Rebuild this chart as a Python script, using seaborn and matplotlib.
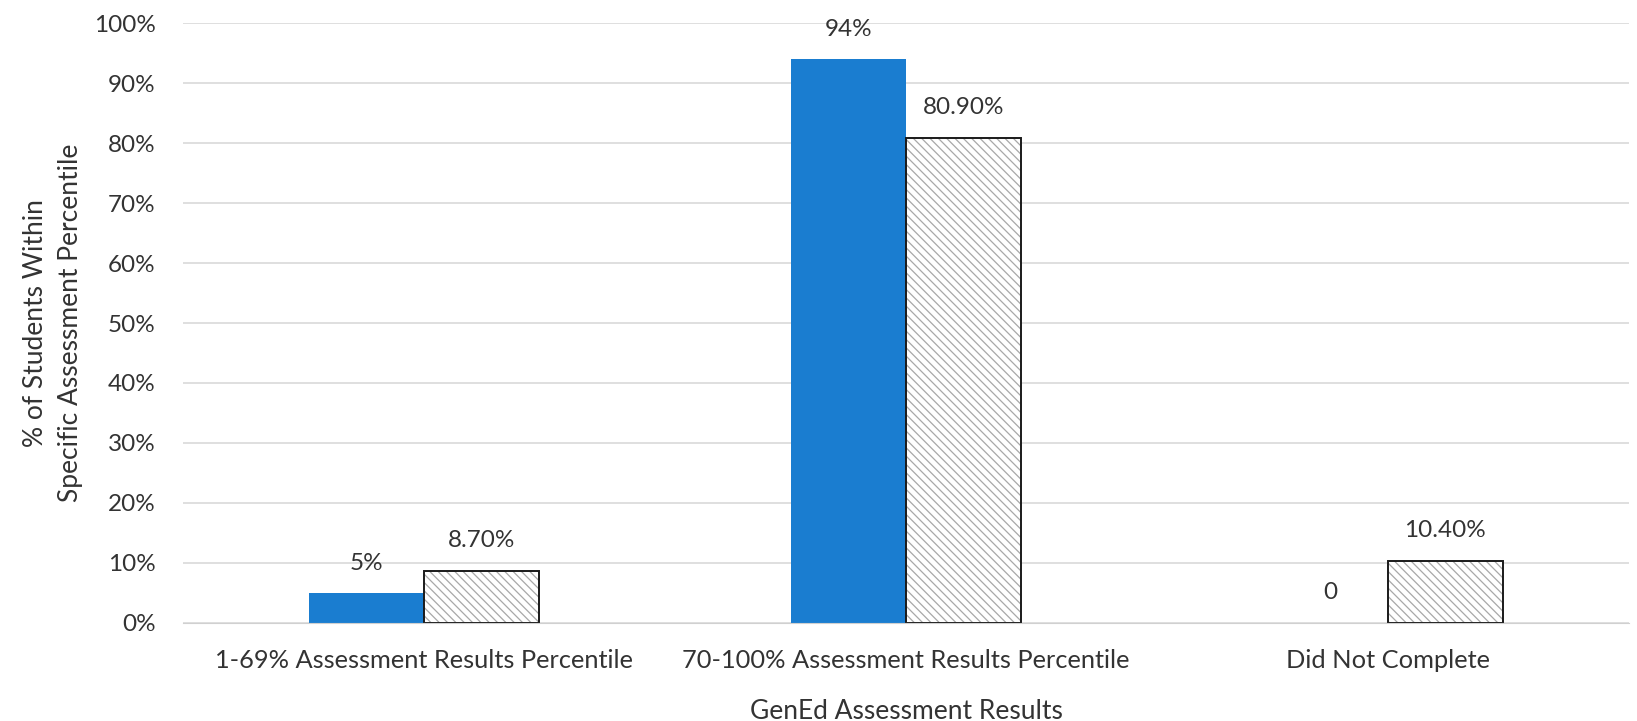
import pandas as pd
import numpy as np
import matplotlib
matplotlib.use('Agg')
import matplotlib.pyplot as plt
import seaborn as sns

categories = ['1-69% Assessment Results Percentile',
              '70-100% Assessment Results Percentile',
              'Did Not Complete']
series = ['Group A', 'Group B']
values_a = [5, 94, 0]
values_b = [8.7, 80.9, 10.4]
labels_a = ['5%', '94%', '0']
labels_b = ['8.70%', '80.90%', '10.40%']

df = pd.DataFrame({
    'Category': categories * 2,
    'Series': [series[0]] * 3 + [series[1]] * 3,
    'Value': values_a + values_b,
})

sns.set_style('white')
plt.rcParams['font.family'] = ['Lato', 'DejaVu Sans']
plt.rcParams['hatch.linewidth'] = 0.9
text_color = '#333333'
blue = '#1a7dd0'

fig, ax = plt.subplots(figsize=(16.37, 7.21), dpi=100)
fig.subplots_adjust(left=0.112, right=0.995, top=0.968, bottom=0.136)

# filled / hatched bars
sns.barplot(data=df, x='Category', y='Value', hue='Series', order=categories,
            hue_order=series, palette=[blue, 'white'], width=0.477,
            saturation=1, legend=False, ax=ax, linewidth=0)
# outline pass
sns.barplot(data=df, x='Category', y='Value', hue='Series', order=categories,
            hue_order=series, palette=[blue, 'white'], width=0.477,
            saturation=1, legend=False, ax=ax, linewidth=0)

for p in ax.containers[1]:
    p.set_hatch('\\\\\\\\')
    p.set_edgecolor('#a8a8a8')
    p.set_linewidth(0)
for p in ax.containers[2]:
    p.set_visible(False)
for p in ax.containers[3]:
    p.set_facecolor('none')
    p.set_edgecolor('#1a1a1a')
    p.set_linewidth(1.4)
for p in ax.containers[0]:
    p.set_edgecolor(blue)

ax.bar_label(ax.containers[0], labels=labels_a, padding=14, fontsize=17.5, color=text_color)
ax.bar_label(ax.containers[3], labels=labels_b, padding=14, fontsize=17.5, color=text_color)

ax.set_ylim(0, 100)
ax.set_yticks(np.arange(0, 101, 10))
ax.set_yticklabels([f'{v}%' for v in range(0, 101, 10)])
ax.yaxis.grid(True, color='#d9d9d9', linewidth=1.2)
ax.set_axisbelow(True)
for s in ['top', 'right', 'left']:
    ax.spines[s].set_visible(False)
ax.spines['bottom'].set_color('#d0d0d0')
ax.tick_params(axis='y', labelsize=17.5, colors=text_color, length=0, pad=20)
ax.tick_params(axis='x', labelsize=18.3, colors=text_color, length=0, pad=19)
ax.set_xlabel('GenEd Assessment Results', fontsize=19, color=text_color, labelpad=19)
ax.set_ylabel('% of Students Within\nSpecific Assessment Percentile', fontsize=19,
              color=text_color, labelpad=8, linespacing=1.5)

plt.savefig('out.png', dpi=100)
